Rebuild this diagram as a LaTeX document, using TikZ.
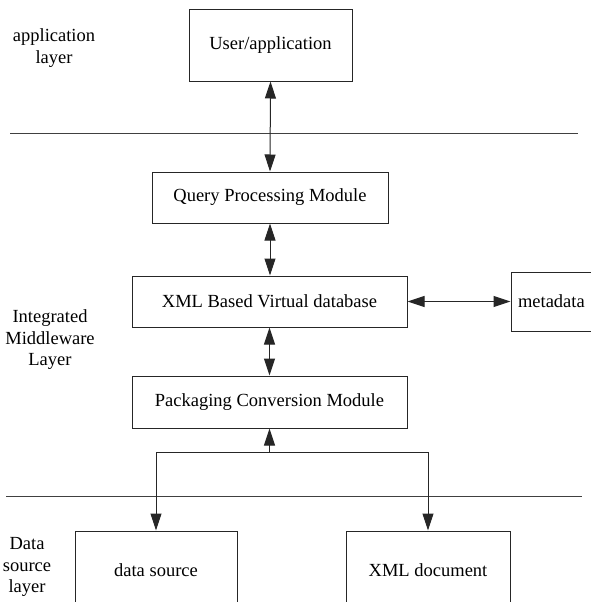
\documentclass[tikz,border=0pt]{standalone}
\usepackage{fontspec}
\setmainfont{Liberation Serif}
\usetikzlibrary{arrows.meta,calc}
\begin{document}
\begin{tikzpicture}[x=1pt,y=1pt,
  box/.style={draw=black!85,line width=1pt,rectangle,inner sep=0pt,font=\fontsize{18.5}{22}\selectfont},
  lbl/.style={align=center,inner sep=0pt,font=\fontsize{18.5}{21.5}\selectfont},
  link/.style={draw=black!85,line width=1pt},
  dbl/.style={link,{Triangle[length=17pt,width=11pt]}-{Triangle[length=17pt,width=11pt]}},
  fwd/.style={link,-{Triangle[length=17pt,width=11pt]}},
  rule/.style={draw=black!75,line width=1pt}]
\clip (0,0) rectangle (591,-602);
\fill[white] (0,0) rectangle (591,-602);

% layer labels
\node[lbl] (applbl) at (54,-48) {application\\layer};
\node[lbl] (midlbl) at (50,-340) {Integrated\\Middleware\\Layer};
\node[lbl] (srclbl) at (27,-567) {Data\\source\\layer};

% layer separators
\coordinate (r1a) at (10,-133);
\coordinate (r1b) at (578,-133);
\coordinate (r2a) at (6,-496);
\coordinate (r2b) at (582,-496);
\draw[rule] (r1a) -- (r1b);
\draw[rule] (r2a) -- (r2b);

% modules
\node[box,minimum width=163pt,minimum height=71pt] (user) at (270.5,-45.5) {User/application};
\node[box,minimum width=236pt,minimum height=51pt] (query) at (270,-197.5) {Query Processing Module};
\node[box,minimum width=275pt,minimum height=51pt] (xml) at (269.5,-301.5) {XML Based Virtual database};
\node[box,minimum width=275pt,minimum height=52pt] (pack) at (269.5,-402) {Packaging Conversion Module};
\node[box,minimum width=124pt,minimum height=59pt,text width=110pt,align=left] (meta) at (573,-301.5) {metadata};
\node[box,minimum width=162pt,minimum height=78pt] (ds) at (156,-570) {data source};
\node[box,minimum width=164pt,minimum height=78pt] (xd) at (428,-570) {XML document};

% connectors
\draw[dbl] (user.south) -- (query.north);
\draw[dbl] (query.south) -- (query.south |- xml.north);
\draw[dbl] (xml.south) -- (xml.south |- pack.north);
\draw[dbl] (xml.east) -- (meta.west);
\coordinate (j) at ($(pack.south)+(0,-24)$);
\draw[fwd] (j) -- (pack.south);
\draw[fwd] (j) -| (ds.north);
\draw[fwd] (j) -| (xd.north);
\end{tikzpicture}
\end{document}
